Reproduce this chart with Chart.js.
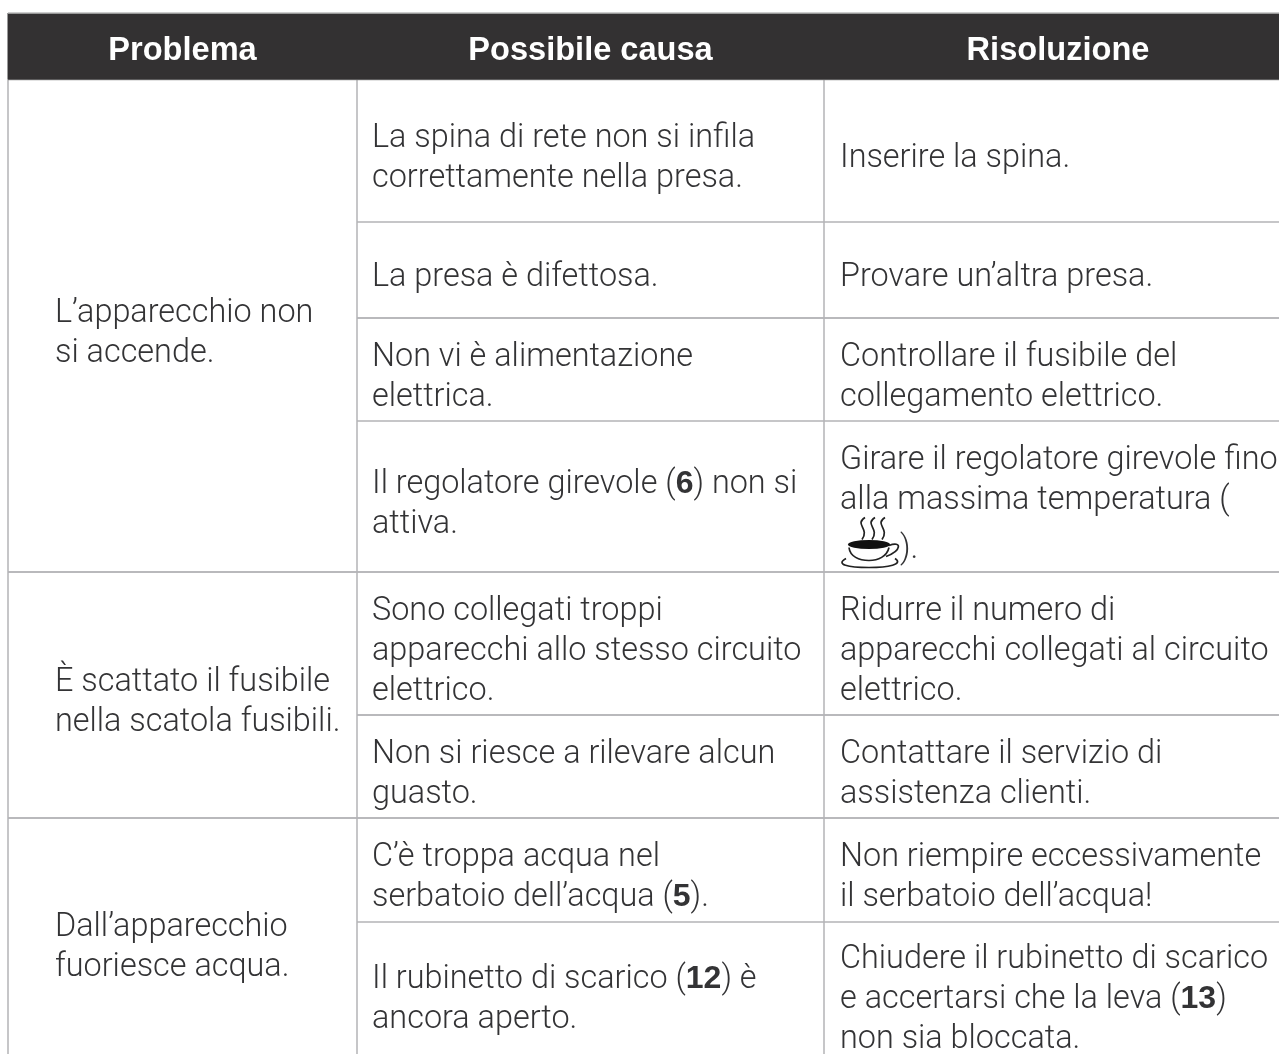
<!DOCTYPE html>
<html>
<head>
<meta charset="utf-8">
<title>Risoluzione dei problemi</title>
<script src="https://cdn.jsdelivr.net/npm/chart.js@4"></script>
<style>
  html,body{margin:0;padding:0;background:#fff;}
  #wrap{width:1279px;height:1054px;}
</style>
</head>
<body>
<div id="wrap"><canvas id="tableChart" width="1279" height="1054"></canvas></div>
<script>
// table content
const headers = ['Problema', 'Possibile causa', 'Risoluzione'];
const problems = [
  ['L’apparecchio non', 'si accende.'],
  ['È scattato il fusibile', 'nella scatola fusibili.'],
  ['Dall’apparecchio', 'fuoriesce acqua.']
];
const causes = [
  ['La spina di rete non si infila', 'correttamente nella presa.'],
  ['La presa è difettosa.'],
  ['Non vi è alimentazione', 'elettrica.'],
  ['Il regolatore girevole (**6**) non si', 'attiva.'],
  ['Sono collegati troppi', 'apparecchi allo stesso circuito', 'elettrico.'],
  ['Non si riesce a rilevare alcun', 'guasto.'],
  ['C’è troppa acqua nel', 'serbatoio dell’acqua (**5**).'],
  ['Il rubinetto di scarico (**12**) è', 'ancora aperto.']
];
const fixes = [
  ['Inserire la spina.'],
  ['Provare un’altra presa.'],
  ['Controllare il fusibile del', 'collegamento elettrico.'],
  ['Girare il regolatore girevole fino', 'alla massima temperatura (', '@).'],
  ['Ridurre il numero di', 'apparecchi collegati al circuito', 'elettrico.'],
  ['Contattare il servizio di', 'assistenza clienti.'],
  ['Non riempire eccessivamente', 'il serbatoio dell’acqua!'],
  ['Chiudere il rubinetto di scarico', 'e accertarsi che la leva (**13**)', 'non sia bloccata.']
];

// grid, in page units (the last column runs off the page)
const columnEdges = [8, 357, 824, 1292];
const headerEdges = [13, 79.5];
const rowEdges = [79.5, 222, 318, 421, 572, 715, 818, 922, 1062];
const problemRows = [[0, 4], [4, 6], [6, 8]]; // which rows each problem spans

const BODY_FONT = '300 32.4px "Roboto"';
const BOLD_FONT = 'bold 32px "Liberation Sans"';
const LINE_H = 40;
const TEXT_COLOR = '#333335';

function drawRuns(ctx, line, x, y){
  // **bold** parts inside a line
  line.split('**').forEach((part, i) => {
    if(!part) return;
    ctx.font = i % 2 ? BOLD_FONT : BODY_FONT;
    if(part.startsWith('@')){
      drawCup(ctx, x, y);
      x += 60;
      part = part.slice(1);
    }
    ctx.fillText(part, x, y);
    x += ctx.measureText(part).width;
  });
}

function drawCup(ctx, x, y){
  // the hot-drink symbol in the last line of the fourth row
  ctx.save();
  ctx.translate(x, y);
  ctx.strokeStyle = '#222';
  ctx.fillStyle = '#111';
  ctx.lineWidth = 1.7;
  [21, 31, 41].forEach(s => {
    ctx.beginPath();
    ctx.moveTo(s + 4, -40);
    ctx.bezierCurveTo(s - 7, -33, s + 9, -29, s + 1, -18);
    ctx.stroke();
  });
  ctx.beginPath();
  ctx.ellipse(29, -13, 21, 4.5, 0, 0, Math.PI * 2);
  ctx.fill();
  ctx.beginPath();
  ctx.moveTo(9, -10);
  ctx.bezierCurveTo(10, -1, 19, 3, 29, 3);
  ctx.bezierCurveTo(38, 3, 47, -1, 49, -10);
  ctx.moveTo(49, -12);
  ctx.bezierCurveTo(62, -17, 62, -7, 46, -1);
  ctx.stroke();
  ctx.beginPath();
  ctx.moveTo(6, 1);
  ctx.bezierCurveTo(-5, 7, 8, 10, 29, 10);
  ctx.bezierCurveTo(48, 10, 64, 7, 55, 1);
  ctx.stroke();
  ctx.restore();
}

const tableText = {
  id: 'tableText',
  afterDatasetsDraw(chart){
    const {ctx, scales:{x, y}} = chart;
    ctx.save();
    ctx.textBaseline = 'alphabetic';

    // header
    ctx.fillStyle = '#fff';
    ctx.textAlign = 'center';
    ctx.font = 'bold 32.6px "Liberation Sans"';
    headers.forEach((h, i) => {
      const cx = (x.getPixelForValue(columnEdges[i]) + x.getPixelForValue(columnEdges[i + 1])) / 2;
      ctx.fillText(h, cx, y.getPixelForValue(60));
    });

    // body cells, centred in their row
    ctx.fillStyle = TEXT_COLOR;
    ctx.textAlign = 'left';
    const cell = (lines, left, top, bottom) => {
      const mid = (y.getPixelForValue(top) + y.getPixelForValue(bottom)) / 2;
      const hasCup = lines.some(l => l.startsWith('@'));
      lines.forEach((line, i) => {
        let by = mid + (i - (lines.length - 1) / 2) * LINE_H + 16;
        if(hasCup) by += line.startsWith('@') ? 5 : -4; // the symbol pushes its line down
        drawRuns(ctx, line, x.getPixelForValue(left), by);
      });
    };
    problems.forEach((lines, i) => {
      cell(lines, 55, rowEdges[problemRows[i][0]], rowEdges[problemRows[i][1]]);
    });
    causes.forEach((lines, i) => cell(lines, columnEdges[1] + 15, rowEdges[i], rowEdges[i + 1]));
    fixes.forEach((lines, i) => cell(lines, columnEdges[2] + 16, rowEdges[i], rowEdges[i + 1]));
    ctx.restore();
  }
};

// rules and header band go in as line datasets
const datasets = [];
const segment = (x0, y0, x1, y1, color, width) => datasets.push({
  type: 'line',
  data: [{x: x0, y: y0}, {x: x1, y: y1}],
  borderColor: color,
  borderWidth: width,
  pointRadius: 0,
  fill: false
});

datasets.push({
  type: 'line',
  data: [{x: columnEdges[0], y: headerEdges[0]}, {x: columnEdges[3], y: headerEdges[0]}],
  borderColor: '#bdbdbd',
  borderWidth: 1.5,
  pointRadius: 0,
  backgroundColor: '#333132',
  fill: {value: headerEdges[1]}
});
segment(columnEdges[0], headerEdges[1], columnEdges[3], headerEdges[1], '#8a8a8a', 1.5);
columnEdges.slice(0, 3).forEach(cx => {
  segment(cx, headerEdges[0], cx, headerEdges[1], '#7a7a7a', 1.5);
  segment(cx, headerEdges[1], cx, 1070, '#b4b4b6', 1.5);
});
const problemBreaks = problemRows.map(r => r[1]);
const lightRules = [1, 3, 7];
rowEdges.slice(1, -1).forEach((ry, i) => {
  const full = problemBreaks.includes(i + 1);
  const light = lightRules.includes(i + 1);
  segment(full ? columnEdges[0] : columnEdges[1], ry, columnEdges[3], ry,
    light ? '#c6c6c8' : '#a2a2a6', light ? 2 : 1.3);
});

new Chart(document.getElementById('tableChart'), {
  type: 'line',
  data: {datasets},
  options: {
    responsive: false,
    animation: false,
    layout: {padding: 0},
    plugins: {legend: {display: false}, tooltip: {enabled: false}},
    scales: {
      x: {type: 'linear', display: false, min: 0, max: 1279},
      y: {type: 'linear', display: false, min: 0, max: 1054, reverse: true}
    }
  },
  plugins: [tableText]
});
</script>
</body>
</html>
